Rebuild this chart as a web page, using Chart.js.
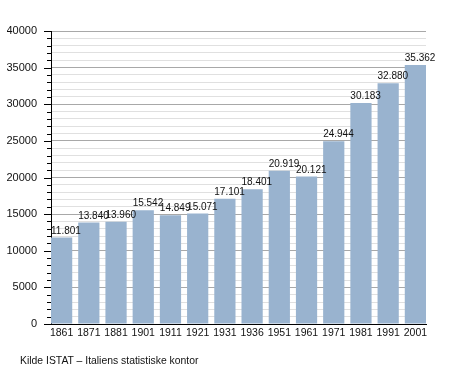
<!DOCTYPE html>
<html>
<head>
<meta charset="utf-8">
<script src="https://cdn.jsdelivr.net/npm/chart.js@4/dist/chart.umd.min.js"></script>
<style>
  html, body { margin: 0; padding: 0; background: #fff; }
  #wrap { position: relative; width: 455px; height: 373px; }
  #src { position: absolute; left: 20px; top: 355px; font: 10.4px "Liberation Sans", Arial, sans-serif; color: #111; white-space: nowrap; }
</style>
</head>
<body>
<div id="wrap">
  <canvas id="c" width="455" height="373"></canvas>
  <div id="src">Kilde ISTAT – Italiens statistiske kontor</div>
</div>
<script>
const years = ["1861","1871","1881","1901","1911","1921","1931","1936","1951","1961","1971","1981","1991","2001"];
const population = [11801, 13840, 13960, 15542, 14849, 15071, 17101, 18401, 20919, 20121, 24944, 30183, 32880, 35362];
const yMax = 40000;
const yStep = 1000;
const yMajorStep = 5000;

const barPct = 0.78;
const fmt = v => String(v).replace(/\B(?=(\d{3})+(?!\d))/g, ".");
const FONT = '"Liberation Sans", Arial, sans-serif';

const yTicksPlugin = {
  id: 'yTicks',
  afterDraw(chart) {
    const ctx = chart.ctx, ys = chart.scales.y, left = chart.chartArea.left;
    ctx.save();
    ctx.strokeStyle = '#000';
    ctx.lineWidth = 1;
    ys.ticks.forEach(t => {
      const y = Math.round(ys.getPixelForValue(t.value)) + 0.5;
      const len = (t.value % yMajorStep === 0) ? 7 : 4;
      ctx.beginPath();
      ctx.moveTo(left - len, y);
      ctx.lineTo(left, y);
      ctx.stroke();
    });
    ctx.restore();
  }
};

const valueLabels = {
  id: 'valueLabels',
  afterDatasetsDraw(chart) {
    const ctx = chart.ctx;
    const meta = chart.getDatasetMeta(0);
    ctx.save();
    ctx.font = '10px ' + FONT;
    ctx.fillStyle = '#111';
    ctx.textAlign = 'left';
    ctx.textBaseline = 'alphabetic';
    meta.data.forEach((bar, i) => {
      const p = bar.getProps(['x', 'y', 'width'], true);
      ctx.fillText(fmt(population[i]), p.x - p.width / 2, p.y - 4);
    });
    ctx.restore();
  }
};

new Chart(document.getElementById('c'), {
  type: 'bar',
  data: {
    datasets: [{
      data: population.map((v, i) => ({ x: i, y: v })),
      backgroundColor: '#99b3cf',
      borderWidth: 0,
      barPercentage: barPct,
      categoryPercentage: 1
    }]
  },
  options: {
    responsive: false,
    animation: false,
    layout: { padding: { left: 7, right: 29, top: 31, bottom: 29 } },
    plugins: { legend: { display: false }, tooltip: { enabled: false } },
    scales: {
      x: {
        type: 'linear',
        offset: false,
        min: -barPct / 2,
        max: years.length - 1 + barPct / 2,
        afterBuildTicks: s => { s.ticks = years.map((_, i) => ({ value: i })); },
        afterFit: s => { s.height = 20; },
        grid: { display: false, drawTicks: false },
        border: { display: true, color: '#000', width: 1 },
        ticks: {
          autoSkip: false,
          maxRotation: 0,
          padding: 3,
          color: '#111',
          font: { family: FONT, size: 10.5 },
          callback: v => years[v] ?? ''
        }
      },
      y: {
        min: 0,
        max: yMax,
        afterFit: s => { s.width = 44; },
        grid: {
          drawTicks: false,
          color: ctx => (ctx.tick && ctx.tick.value % yMajorStep === 0) ? '#a8a8a8' : '#e0e0e0',
          lineWidth: 1
        },
        border: { display: true, color: '#000', width: 1 },
        ticks: {
          stepSize: yStep,
          autoSkip: false,
          padding: 14,
          color: '#111',
          font: { family: FONT, size: 11 },
          callback: v => (v % yMajorStep === 0) ? String(v) : ''
        }
      }
    }
  },
  plugins: [yTicksPlugin, valueLabels]
});
</script>
</body>
</html>
